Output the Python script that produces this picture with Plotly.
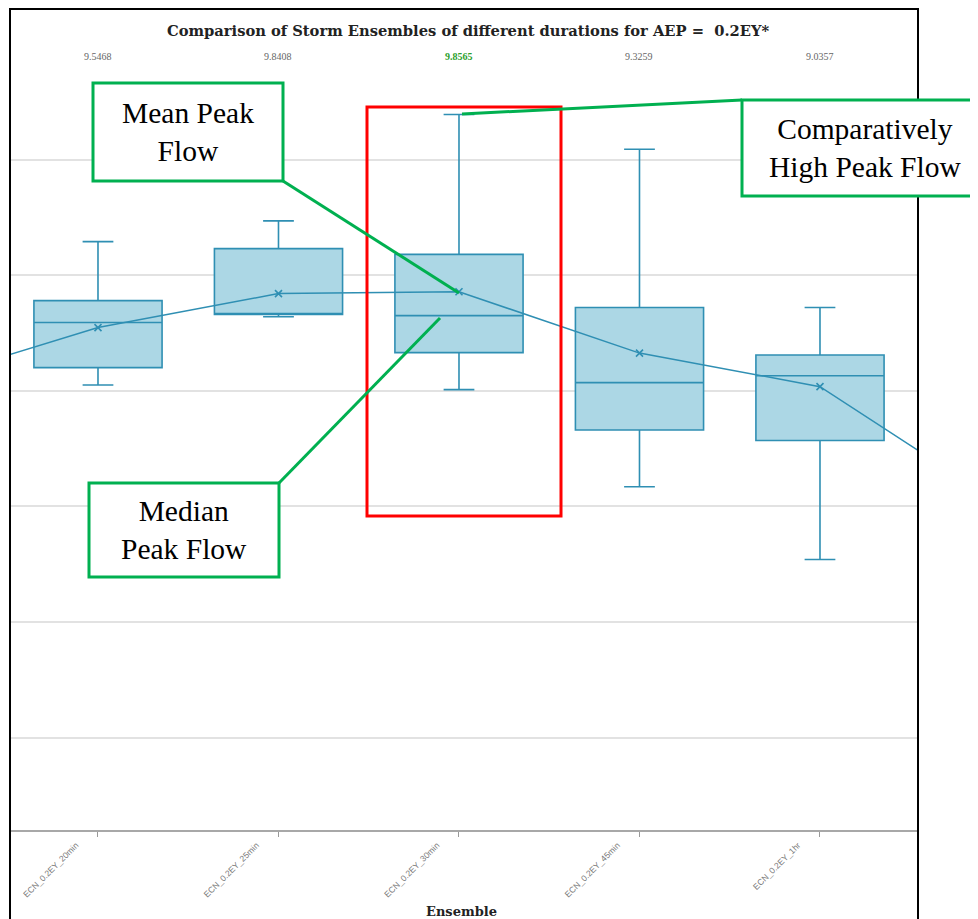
import plotly.graph_objects as go

# ---- data ----
categories = ["ECN_0.2EY_15min", "ECN_0.2EY_20min", "ECN_0.2EY_25min", "ECN_0.2EY_30min",
              "ECN_0.2EY_45min", "ECN_0.2EY_1hr", "ECN_0.2EY_2hr"]
box_categories = categories[1:6]
upper_whisker = [10.29, 10.47, 11.39, 11.09, 9.72]
q3_values = [9.78, 10.23, 10.18, 9.72, 9.31]
median_values = [9.59, 9.66, 9.65, 9.07, 9.13]
q1_values = [9.20, 9.67, 9.33, 8.66, 8.57]
lower_whisker = [9.05, 9.64, 9.01, 8.17, 7.54]
mean_values = [9.07, 9.5468, 9.8408, 9.8565, 9.3259, 9.0357, 8.02]
highlight_category = "ECN_0.2EY_30min"

title_text = "Comparison of Storm Ensembles of different durations for AEP =  0.2EY*"
x_title = "Ensemble"

BOX_LINE = "#2f8fb3"
BOX_FILL = "#acd7e5"
GREEN = "#00b050"

# screen pixel -> paper helpers (plot area on screen: x 10..918, y 44..830)
def px(x):
    return (x - 10) / 908.0

def py(y):
    return (830 - y) / 786.0

fig = go.Figure()

q1_fixed = [min(a, b) for a, b in zip(q1_values, median_values)]
fig.add_trace(go.Box(
    x=box_categories,
    q1=q1_fixed, median=median_values, q3=q3_values,
    lowerfence=lower_whisker, upperfence=upper_whisker,
    width=0.71, whiskerwidth=0.24,
    line=dict(color=BOX_LINE, width=1.6),
    fillcolor=BOX_FILL,
    boxpoints=False,
    showlegend=False,
))

fig.add_trace(go.Scatter(
    x=categories, y=mean_values,
    mode="lines+markers",
    line=dict(color=BOX_LINE, width=1.5),
    marker=dict(symbol="x-thin", size=7, line=dict(color=BOX_LINE, width=1.6)),
    showlegend=False,
))

annotations = []
for cat, m in zip(categories, mean_values):
    if cat not in box_categories:
        continue
    is_hl = cat == highlight_category
    annotations.append(dict(
        x=cat, xref="x", y=py(56), yref="paper", xanchor="center", yanchor="middle",
        text=(f"<b>{m:.4f}</b>" if is_hl else f"{m:.4f}"),
        showarrow=False,
        font=dict(family="Liberation Serif", size=10, color="#2ca02c" if is_hl else "#666666"),
    ))

annotations.append(dict(
    x=px(468), y=py(31), xref="paper", yref="paper", xanchor="center", yanchor="middle",
    text=f"<b>{title_text}</b>", showarrow=False,
    font=dict(family="DejaVu Serif", size=14.7, color="#222222"),
))
annotations.append(dict(
    x=px(461), y=py(911), xref="paper", yref="paper", xanchor="center", yanchor="middle",
    text=f"<b>{x_title}</b>", showarrow=False,
    font=dict(family="DejaVu Serif", size=13, color="#222222"),
))

callout_font = dict(family="Liberation Serif", size=29.5, color="#000000")
for tx, ty, txt in [(188, 132, "Mean Peak<br>Flow"),
                    (865, 148, "Comparatively<br>High Peak Flow"),
                    (184, 530, "Median<br>Peak Flow")]:
    annotations.append(dict(x=px(tx), y=py(ty), xref="paper", yref="paper",
                            xanchor="center", yanchor="middle",
                            text=txt, showarrow=False, font=callout_font))

shapes = []
shapes.append(dict(type="rect", xref="paper", yref="paper",
                   x0=px(10), x1=px(918), y0=py(940), y1=py(9),
                   line=dict(color="#000000", width=2), layer="above"))
shapes.append(dict(type="rect", xref="paper", yref="paper",
                   x0=px(367), x1=px(561), y0=py(516), y1=py(107),
                   line=dict(color="#ff0000", width=3), layer="above"))
shapes.append(dict(type="line", xref="paper", yref="paper",
                   x0=px(283), y0=py(181), x1=px(459), y1=py(293),
                   line=dict(color=GREEN, width=3), layer="above"))
shapes.append(dict(type="line", xref="paper", yref="paper",
                   x0=px(279), y0=py(483), x1=px(440), y1=py(318),
                   line=dict(color=GREEN, width=3), layer="above"))
shapes.append(dict(type="line", xref="paper", yref="paper",
                   x0=px(742), y0=py(100), x1=px(462), y1=py(114),
                   line=dict(color=GREEN, width=3), layer="above"))
for (x0, x1, y0, y1) in [(93, 283, 83, 181), (742, 990, 100, 196), (89, 279, 483, 577)]:
    shapes.append(dict(type="rect", xref="paper", yref="paper",
                       x0=px(x0), x1=px(x1), y0=py(y1), y1=py(y0),
                       line=dict(color=GREEN, width=3), fillcolor="#ffffff", layer="above"))

# page body has an 8px margin, so the figure starts at screen (8, 8)
fig.update_layout(
    width=978, height=919,
    margin=dict(l=2, r=68, t=36, b=97),
    paper_bgcolor="#ffffff", plot_bgcolor="#ffffff",
    showlegend=False,
    annotations=annotations,
    shapes=shapes,
)
fig.update_xaxes(
    type="category", categoryorder="array", categoryarray=categories,
    range=[0.5125, 5.543],
    showgrid=False, zeroline=False,
    showline=True, linecolor="#a8a8a8", linewidth=2,
    ticks="outside", ticklen=5, tickcolor="#999999",
    tickangle=-45, ticklabelstandoff=0, ticklabelshift=-22,
    tickfont=dict(family="Liberation Sans", size=8.5, color="#777777"),
)
fig.update_yaxes(
    range=[5.2, 12.0], dtick=1, tick0=0,
    showgrid=True, gridcolor="#e2e2e2", gridwidth=1.5,
    showticklabels=False, zeroline=False, showline=False,
)

fig.write_html("out.html")
